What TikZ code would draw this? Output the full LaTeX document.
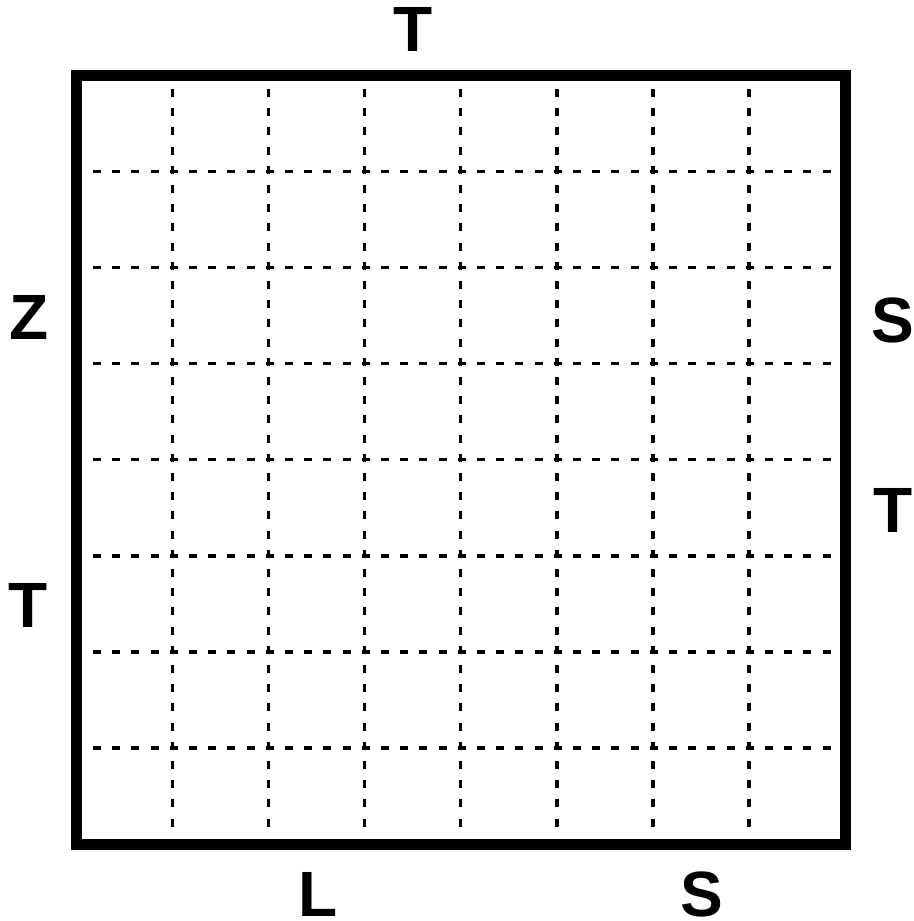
\documentclass[tikz,border=0pt]{standalone}
\usepackage{fontspec}
\setmainfont{Liberation Sans}
\begin{document}
\begin{tikzpicture}[x=1pt,y=-1pt,
  lbl/.style={inner sep=0pt,text height=46pt,text depth=0pt,font=\fontsize{64}{64}\selectfont\bfseries},
  gridline/.style={line width=3.5pt,dash pattern=on 8pt off 11.2pt},
  frame/.style={line width=11pt}]
\useasboundingbox (0,0) rectangle (913,921);
\coordinate (tl) at (76.5,75.5);
\coordinate (br) at (845,844);
\foreach \i in {1,...,7}{
  \pgfmathsetmacro{\gx}{76.5+\i*96.06}
  \pgfmathsetmacro{\gy}{75.5+\i*96.06}
  \coordinate (v\i a) at (\gx,89);
  \coordinate (v\i b) at (\gx,827);
  \coordinate (h\i a) at (93,\gy);
  \coordinate (h\i b) at (831,\gy);
  \draw[gridline] (v\i a) -- (v\i b);
  \draw[gridline] (h\i a) -- (h\i b);
}
\draw[frame] (tl) rectangle (br);
\node[lbl] (tT) at (413,28.5) {T};
\node[lbl] (lZ) at (29,316.5) {Z};
\node[lbl] (lT) at (28.5,604.5) {T};
\node[lbl] (rS) at (893,319) {S};
\node[lbl] (rT) at (893.5,509) {T};
\node[lbl] (bL) at (318,893.5) {L};
\node[lbl] (bS) at (702,893) {S};
\end{tikzpicture}
\end{document}
